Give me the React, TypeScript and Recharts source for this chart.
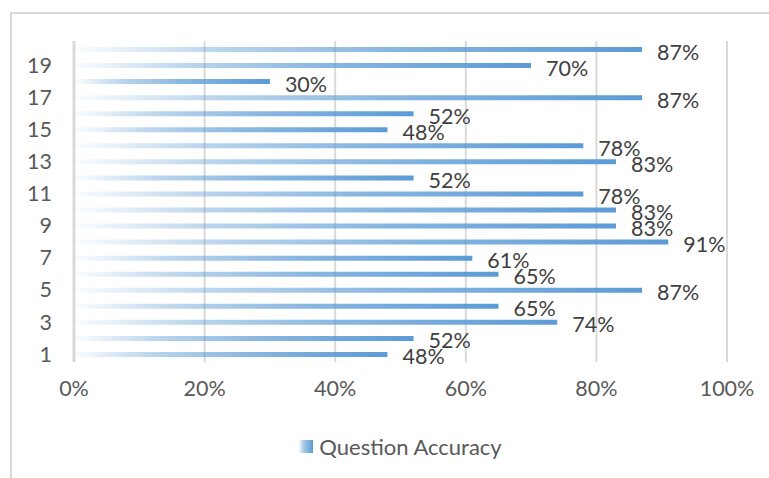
import React from 'react';
import { BarChart, Bar, XAxis, YAxis, CartesianGrid, Legend, LabelList } from 'recharts';

const questions = ['1', '2', '3', '4', '5', '6', '7', '8', '9', '10', '11', '12', '13', '14', '15', '16', '17', '18', '19', '20'];
const accuracy = [0.48, 0.52, 0.74, 0.65, 0.87, 0.65, 0.61, 0.91, 0.83, 0.83, 0.78, 0.52, 0.83, 0.78, 0.48, 0.52, 0.87, 0.3, 0.7, 0.87];
const xTicks = [0, 0.2, 0.4, 0.6, 0.8, 1];

const data = questions.map((q, i) => ({ q, value: accuracy[i] }));

const FONT = 'Lato, "Open Sans", sans-serif';
const pct = (v: number) => `${Math.round(v * 100)}%`;

const renderLabel = (props: any) => {
  const box = props.viewBox && props.viewBox.width !== undefined ? props.viewBox : props;
  const { x, y, width, height } = box;
  return (
    <text
      x={x + width + 15}
      y={y + height / 2 + 2}
      fill="#404040"
      fontSize={21.5}
      fontFamily={FONT}
      dominantBaseline="central"
    >
      {pct(props.value)}
    </text>
  );
};

const LegendContent = () => (
  <div style={{ display: 'flex', justifyContent: 'center', alignItems: 'center', fontFamily: FONT }}>
    <span
      style={{
        width: 14,
        height: 13,
        background: 'linear-gradient(to right, rgba(91,155,213,0.05), rgba(91,155,213,0.5) 30%, #5b9bd5)',
        display: 'inline-block',
        marginRight: 6,
      }}
    />
    <span style={{ color: '#595959', fontSize: 22 }}>Question Accuracy</span>
  </div>
);

export default function App() {
  return (
    <div style={{ position: 'fixed', left: 0, top: 0, width: 769, height: 478, background: '#fff', overflow: 'hidden' }}>
      <div
        style={{
          position: 'absolute',
          left: 10,
          top: 12,
          width: 800,
          height: 500,
          borderTop: '2px solid #d9d9d9',
          borderLeft: '2px solid #d9d9d9',
        }}
      />
      <div style={{ position: 'absolute', left: 0, top: 0 }}>
        <BarChart
          width={769}
          height={478}
          data={data}
          layout="vertical"
          margin={{ top: 41, right: 42, left: 0, bottom: 76 }}
          barCategoryGap={0}
        >
          <defs>
            <linearGradient id="barGrad" x1="0" y1="0" x2="1" y2="0">
              <stop offset="0" stopColor="#5b9bd5" stopOpacity={0.02} />
              <stop offset="0.25" stopColor="#5b9bd5" stopOpacity={0.42} />
              <stop offset="0.55" stopColor="#5b9bd5" stopOpacity={0.72} />
              <stop offset="1" stopColor="#5b9bd5" stopOpacity={1} />
            </linearGradient>
          </defs>
          <CartesianGrid horizontal={false} stroke="#d9d9d9" strokeWidth={2} />
          <XAxis
            type="number"
            domain={[0, 1]}
            ticks={xTicks}
            tickFormatter={pct}
            axisLine={false}
            tickLine={false}
            tickSize={0}
            tickMargin={19}
            height={40}
            interval={0}
            tick={{ fill: '#595959', fontSize: 21.5, fontFamily: FONT }}
          />
          <YAxis
            type="category"
            dataKey="q"
            reversed
            width={74}
            interval={1}
            axisLine={{ stroke: '#d9d9d9', strokeWidth: 3 }}
            tickLine={false}
            tickSize={0}
            tickMargin={22}
            tick={{ fill: '#595959', fontSize: 21.5, fontFamily: FONT }}
          />
          <Legend
            layout="vertical"
            align="center"
            verticalAlign="middle"
            content={<LegendContent />}
            wrapperStyle={{ top: 433, left: 16, width: 769 }}
          />
          <Bar dataKey="value" name="Question Accuracy" fill="url(#barGrad)" barSize={5} isAnimationActive={false}>
            <LabelList dataKey="value" content={renderLabel} />
          </Bar>
        </BarChart>
      </div>
    </div>
  );
}
